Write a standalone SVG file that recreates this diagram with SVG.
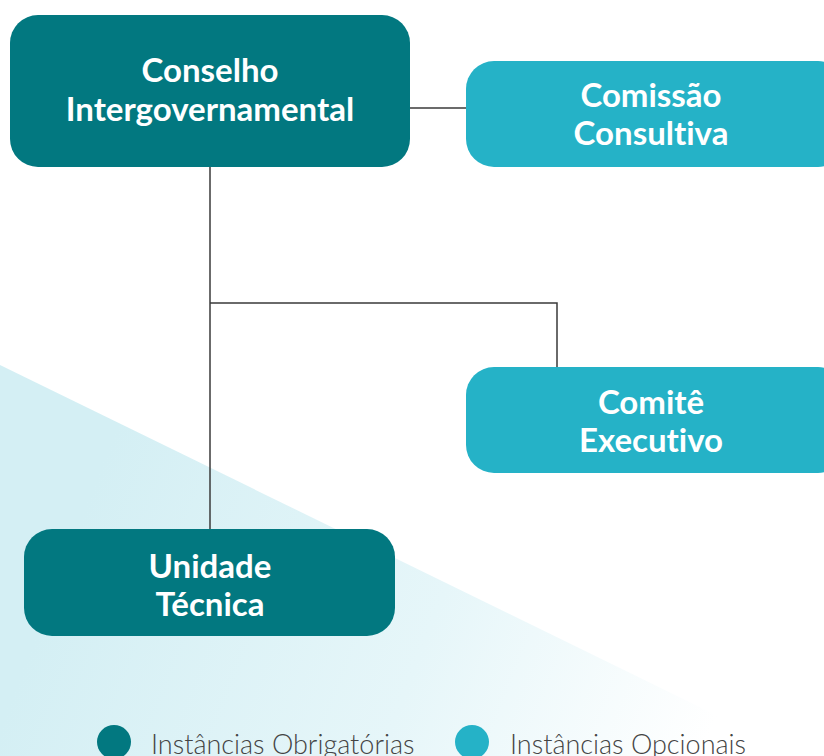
<svg xmlns="http://www.w3.org/2000/svg" width="824" height="756" viewBox="0 0 824 756">
<defs>
<linearGradient id="bg" gradientUnits="userSpaceOnUse" x1="80" y1="520" x2="700" y2="760">
<stop offset="0" stop-color="#d4eff4"/>
<stop offset="0.55" stop-color="#e6f6f9"/>
<stop offset="1" stop-color="#ffffff"/>
</linearGradient>
<style>
.dark{fill:#027880}
.light{fill:#25b2c7}
.lbl{font-family:Lato,"Liberation Sans",sans-serif;font-weight:700;font-size:33px;fill:#ffffff;text-anchor:middle;font-variant-ligatures:none}
.leg{font-family:Lato,"Liberation Sans",sans-serif;font-weight:300;font-size:27px;fill:#444444;font-variant-ligatures:none}
.conn{stroke:#3a3a3a;stroke-width:1.5;fill:none}
</style>
</defs>
<rect width="824" height="756" fill="#ffffff"/>
<polygon points="0,365 800,756 0,756" fill="url(#bg)"/>
<g id="connectors">
<line class="conn" x1="410" y1="108" x2="466" y2="108"/>
<line class="conn" x1="210" y1="167" x2="210" y2="529"/>
<polyline class="conn" points="210,303 557,303 557,367"/>
</g>
<g id="conselho">
<rect class="dark" x="10" y="15" width="400" height="152" rx="28"/>
<text class="lbl" x="210" y="82">Conselho</text>
<text class="lbl" x="210" y="121">Intergovernamental</text>
</g>
<g id="comissao">
<rect class="light" x="466" y="61" width="380" height="106" rx="28"/>
<text class="lbl" x="651" y="107">Comissão</text>
<text class="lbl" x="651" y="145">Consultiva</text>
</g>
<g id="comite">
<rect class="light" x="466" y="367" width="380" height="106" rx="28"/>
<text class="lbl" x="651" y="414">Comitê</text>
<text class="lbl" x="651" y="452">Executivo</text>
</g>
<g id="unidade">
<rect class="dark" x="24" y="529" width="371" height="107" rx="28"/>
<text class="lbl" x="210" y="578">Unidade</text>
<text class="lbl" x="210" y="616">Técnica</text>
</g>
<g id="legend">
<circle class="dark" cx="114" cy="742" r="17"/>
<text class="leg" x="151" y="754">Instâncias Obrigatórias</text>
<circle class="light" cx="472" cy="742" r="17"/>
<text class="leg" x="510" y="754">Instâncias Opcionais</text>
</g>
</svg>
